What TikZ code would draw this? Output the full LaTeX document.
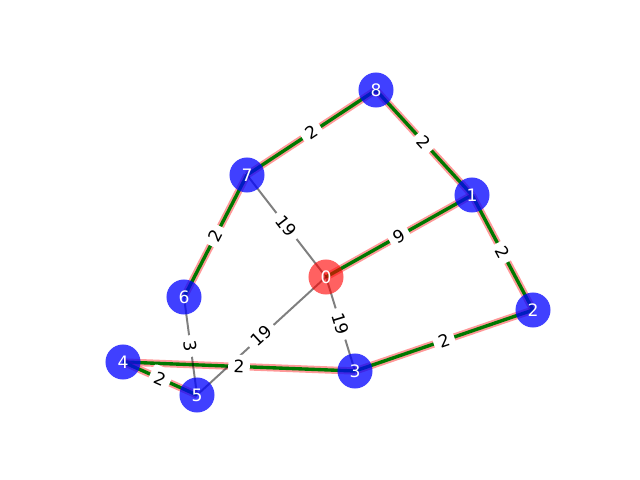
\documentclass[tikz,border=0pt]{standalone}
\usepackage{fontspec}
\setmainfont{DejaVu Sans}
\usepackage{xcolor}
\usepackage{tikz}
\usetikzlibrary{positioning}
\pgfdeclarelayer{edgelayer}
\pgfdeclarelayer{labellayer}
\pgfsetlayers{edgelayer,main,labellayer}
\definecolor{pathgreen}{RGB}{0,120,0}

\begin{document}
\begin{tikzpicture}[
    x=0.025cm, y=-0.025cm,
    vertex/.style={circle, inner sep=0pt, minimum size=0.875cm, fill=blue, fill opacity=0.75, text opacity=1, text=white, font=\fontsize{12.2}{14}\selectfont},
    source/.style={vertex, fill=red, fill opacity=0.62},
    plain/.style={draw=black, draw opacity=0.5, line width=1.4pt},
    tour/.style={draw=pathgreen, line width=2.4pt, preaction={draw=red, draw opacity=0.4, line width=5.2pt}},
    weight/.style={sloped, fill=white, rounded corners=2pt, inner sep=3.8pt, font=\fontsize{12.2}{14}\selectfont}
]
    \useasboundingbox (0,0) rectangle (640,480);

    % Vertices
    \node[source] (n0) at (326,277) {0};
    \node[vertex] (n1) at (472,195) {1};
    \node[vertex] (n2) at (533,310) {2};
    \node[vertex] (n3) at (355,371) {3};
    \node[vertex] (n4) at (123,362) {4};
    \node[vertex] (n5) at (197,395) {5};
    \node[vertex] (n6) at (184,297) {6};
    \node[vertex] (n7) at (247,175) {7};
    \node[vertex] (n8) at (376,90) {8};

    \begin{pgfonlayer}{edgelayer}
    % Tour edges
    \draw[tour] (n0.center) -- (n1.center);
    \draw[tour] (n1.center) -- (n8.center);
    \draw[tour] (n1.center) -- (n2.center);
    \draw[tour] (n2.center) -- (n3.center);
    \draw[tour] (n3.center) -- (n4.center);
    \draw[tour] (n4.center) -- (n5.center);
    \draw[tour] (n6.center) -- (n7.center);
    \draw[tour] (n7.center) -- (n8.center);

    % Other edges
    \draw[plain] (n0.center) -- (n7.center);
    \draw[plain] (n0.center) -- (n3.center);
    \draw[plain] (n0.center) -- (n5.center);
    \draw[plain] (n5.center) -- (n6.center);
    \end{pgfonlayer}

    % Edge weights
    \begin{pgfonlayer}{labellayer}
    \path (n0.center) -- node[weight] {9} (n1.center);
    \path (n1.center) -- node[weight] {2} (n8.center);
    \path (n1.center) -- node[weight] {2} (n2.center);
    \path (n2.center) -- node[weight] {2} (n3.center);
    \path (n3.center) -- node[weight] {2} (n4.center);
    \path (n4.center) -- node[weight] {2} (n5.center);
    \path (n6.center) -- node[weight] {2} (n7.center);
    \path (n7.center) -- node[weight] {2} (n8.center);
    \path (n0.center) -- node[weight] {19} (n7.center);
    \path (n0.center) -- node[weight] {19} (n3.center);
    \path (n0.center) -- node[weight] {19} (n5.center);
    \path (n5.center) -- node[weight] {3} (n6.center);
    \end{pgfonlayer}

\end{tikzpicture}
\end{document}
